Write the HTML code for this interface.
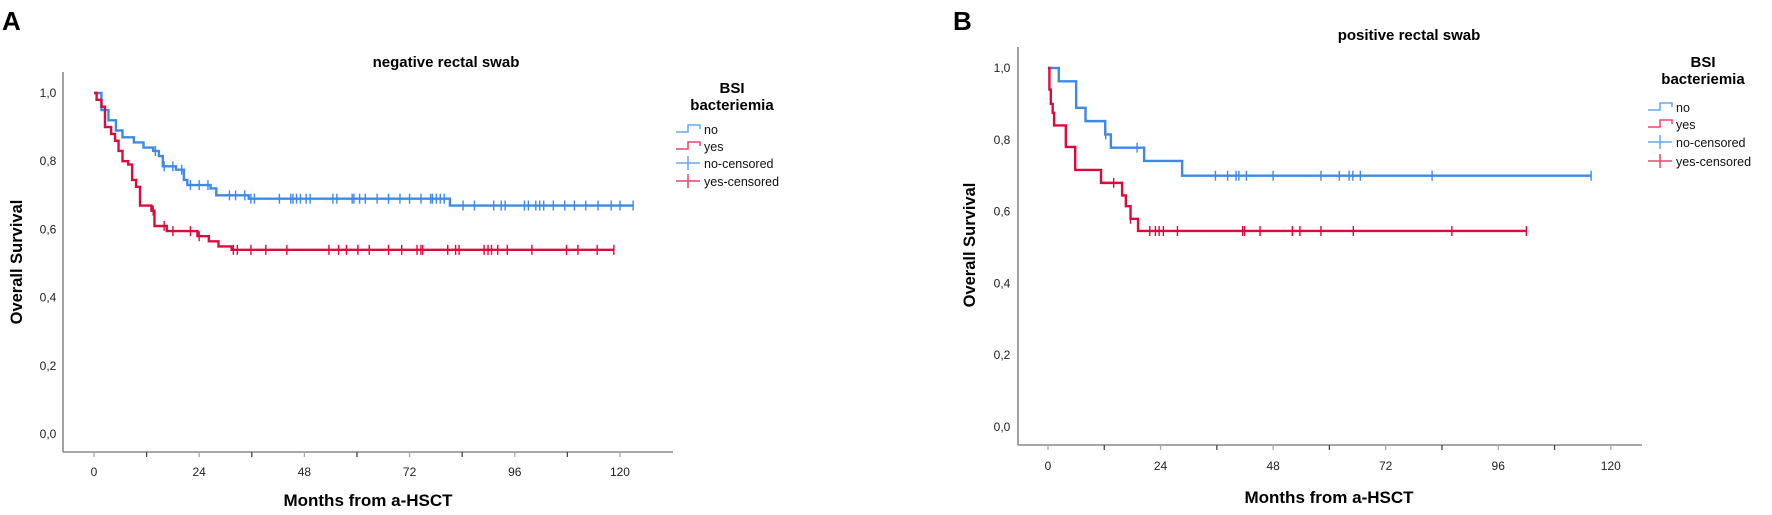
<!DOCTYPE html>
<html><head><meta charset="utf-8">
<style>
html,body{margin:0;padding:0;background:#fff;}
svg{display:block;font-family:"Liberation Sans",Arial,sans-serif;}
</style></head>
<body>
<svg id="chart" width="1772" height="515" viewBox="0 0 1772 515">
<text x="2" y="30" font-size="26" font-weight="bold">A</text>
<text x="953" y="30" font-size="26" font-weight="bold">B</text>
</svg>
<script>
// Panel A data (negative rectal swab)
const aNoTimes=[0,1.7,3.3,5.0,6.5,9.1,11.3,13.5,14.8,15.7,18.7,20.5,21.3,26.6,27.9,35.3,81.2];
const aNoSurv=[1.0,0.95,0.92,0.89,0.87,0.855,0.84,0.83,0.815,0.785,0.775,0.745,0.73,0.72,0.70,0.69,0.67];
const aNoEnd=123;
const aNoCens=[14,16,18,20,22,24,26,30.9,32.3,34.4,35.8,36.6,42.3,44.9,45.4,46.2,47.1,48.4,49.3,54.5,55.4,58.9,59.3,60.6,61.9,64.6,67.2,69.8,72.0,74.6,76.8,77.2,78.1,79.0,79.9,84.2,86.8,91.2,92.9,93.8,98.2,99.1,100.8,101.7,102.6,104.8,107.4,109.6,112.2,115,118,120,123];
const aYesTimes=[0,0.6,1.7,2.5,3.9,4.8,5.6,6.5,7.8,8.7,9.6,10.5,13.1,13.8,16.6,23.6,26.2,28.4,31.4];
const aYesSurv=[1.0,0.98,0.96,0.90,0.88,0.86,0.83,0.80,0.79,0.745,0.725,0.67,0.655,0.61,0.595,0.58,0.565,0.55,0.54];
const aYesEnd=118.6;
const aYesCens=[13.5,16,18,22,24,31.8,32.7,35.8,39.2,44.0,53.6,55.8,57.6,60.2,62.8,67.2,70.2,73.7,74.6,75.0,80.7,82.5,83.3,89.0,89.9,90.7,92.1,94.3,99.9,107.8,110.4,114.8,118.6];
// Panel B data (positive rectal swab)
const bNoTimes=[0,2.3,6.0,8.0,12.2,13.4,20.5,28.6];
const bNoSurv=[1.0,0.963,0.889,0.852,0.815,0.778,0.741,0.70];
const bNoEnd=115.8;
const bNoCens=[12.3,19,35.7,38.3,40.1,40.7,42.3,48.0,58.2,62.1,64.2,65.0,66.6,81.9,115.8];
const bYesTimes=[0,0.3,0.6,1.0,1.3,3.8,5.8,11.3,15.8,16.6,17.6,19.2];
const bYesSurv=[1.0,0.94,0.90,0.875,0.84,0.78,0.716,0.68,0.645,0.615,0.58,0.546];
const bYesEnd=102;
const bYesCens=[14,17.6,21.7,22.9,23.7,24.6,27.6,41.5,41.9,45.2,52.1,53.7,58.2,65.1,86.1,102];
const xTicks=[0,24,48,72,96,120];
const xMinor=[12,36,60,84,108];
const yTicks=[0,0.2,0.4,0.6,0.8,1.0];
const yTickLabels=["0,0","0,2","0,4","0,6","0,8","1,0"];
const legendLabels=["no","yes","no-censored","yes-censored"];

const NS="http://www.w3.org/2000/svg";
const svg=document.getElementById('chart');
const BLUE="#3d8ae6", RED="#dc0b3c";
function mk(tag,attrs,parent){const e=document.createElementNS(NS,tag);for(const k in attrs)e.setAttribute(k,attrs[k]);(parent||svg).appendChild(e);return e;}

function panel(cfg,id){
  const g=mk('g',{});
  
  
  const X=m=>cfg.x0+m*cfg.xs, Y=s=>cfg.y0-s*cfg.ys;
  const ya=mk('line',{x1:cfg.ax,y1:cfg.axTop,x2:cfg.ax,y2:cfg.axY,stroke:'#8a8a8a','stroke-width':1.6},g);
  
  
  const xa=mk('line',{x1:cfg.ax,y1:cfg.axY,x2:cfg.axEnd,y2:cfg.axY,stroke:'#8a8a8a','stroke-width':1.6},g);
  
  
  xTicks.concat(xMinor).forEach(t=>{
    const l=mk('line',{x1:X(t),y1:cfg.axY,x2:X(t),y2:cfg.axY+5,stroke:xMinor.includes(t)?'#444':'#aaa','stroke-width':1.3},g);
    
    
  });
  xTicks.forEach(t=>{
    const tx=mk('text',{x:X(t),y:cfg.xLabY,'font-size':12,'text-anchor':'middle',fill:'#222'},g);
    tx.textContent=t;
    
    
  });
  yTicks.forEach((t,i)=>{
    const tx=mk('text',{x:cfg.yLabX,y:Y(t)+4,'font-size':12,'text-anchor':'middle',fill:'#222'},g);
    tx.textContent=yTickLabels[i];
    
    
  });
  const xt=mk('text',{x:cfg.xTitleX,y:cfg.xTitleY,'font-size':17,'font-weight':'bold','text-anchor':'middle'},g);
  xt.textContent='Months from a-HSCT';
  
  
  const yt=mk('text',{x:0,y:0,'font-size':16.5,'font-weight':'bold','text-anchor':'middle',transform:`translate(${cfg.yTitleX},${cfg.yTitleY}) rotate(-90)`},g);
  yt.textContent='Overall Survival';
  
  
  const tt=mk('text',{x:cfg.titleX,y:cfg.titleY,'font-size':15,'font-weight':'bold','text-anchor':'middle'},g);
  tt.textContent=cfg.title;
  
  
  function curve(times,surv,end,cens,color,name){
    let d=`M${X(times[0])},${Y(surv[0])}`;
    for(let i=1;i<times.length;i++){d+=` H${X(times[i])} V${Y(surv[i])}`;}
    d+=` H${X(end)}`;
    const p=mk('path',{d:d,fill:'none',stroke:color,'stroke-width':2.4},g);
    
    
    cens.forEach(c=>{
      let s=surv[0];
      for(let i=0;i<times.length;i++){if(times[i]<=c)s=surv[i];}
      const l=mk('line',{x1:X(c),y1:Y(s)-5,x2:X(c),y2:Y(s)+5,stroke:color,'stroke-width':1.4},g);
      
      
    });
  }
  curve(cfg.noT,cfg.noS,cfg.noE,cfg.noC,BLUE,'no');
  curve(cfg.yesT,cfg.yesS,cfg.yesE,cfg.yesC,RED,'yes');
  const lg=mk('g',{},g);
  
  
  const lt1=mk('text',{x:cfg.legX,y:cfg.legY,'font-size':15,'font-weight':'bold','text-anchor':'middle'},lg);
  lt1.textContent='BSI';
  
  
  const lt2=mk('text',{x:cfg.legX,y:cfg.legY+17,'font-size':15,'font-weight':'bold','text-anchor':'middle'},lg);
  lt2.textContent='bacteriemia';
  
  
  legendLabels.forEach((lab,i)=>{
    const y=cfg.legItemY[i], sx=cfg.legSymX, col=i%2===0?'#6aa6ee':'#e8476a';
    if(i<2){
      const p=mk('path',{d:`M${sx},${y+3} H${sx+12} V${y-4} H${sx+24} V${y}`,fill:'none',stroke:col,'stroke-width':1.5},lg);
      
      
    }else{
      const p=mk('path',{d:`M${sx},${y} H${sx+24} M${sx+12},${y-7} V${y+7}`,fill:'none',stroke:col,'stroke-width':1.5},lg);
      
      
    }
    const t=mk('text',{x:sx+28,y:y+5,'font-size':12.5,fill:'#111'},lg);
    t.textContent=lab;
    
    
  });
}

panel({x0:94,xs:4.383,y0:434,ys:341,ax:63,axTop:72,axY:452,axEnd:673,xLabY:476,yLabX:48,
  xTitleX:368,xTitleY:506,yTitleX:22,yTitleY:262,titleX:446,titleY:67,title:'negative rectal swab',
  noT:aNoTimes,noS:aNoSurv,noE:aNoEnd,noC:aNoCens,yesT:aYesTimes,yesS:aYesSurv,yesE:aYesEnd,yesC:aYesCens,
  legX:732,legY:93,legSymX:676,legItemY:[129,146,163,181]},'negative');
panel({x0:1048,xs:4.69,y0:427,ys:359,ax:1018,axTop:47,axY:445,axEnd:1642,xLabY:470,yLabX:1002,
  xTitleX:1329,xTitleY:503,yTitleX:975,yTitleY:245,titleX:1409,titleY:40,title:'positive rectal swab',
  noT:bNoTimes,noS:bNoSurv,noE:bNoEnd,noC:bNoCens,yesT:bYesTimes,yesS:bYesSurv,yesE:bYesEnd,yesC:bYesCens,
  legX:1703,legY:67,legSymX:1648,legItemY:[107,124,142,161]},'positive');
</script>
</body></html>
